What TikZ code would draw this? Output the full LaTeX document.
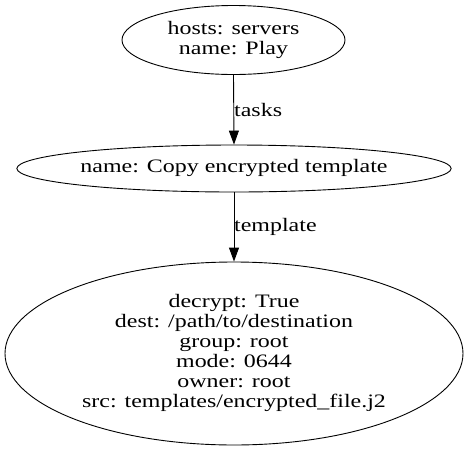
\documentclass[tikz,border=0pt]{standalone}
\usepackage{fontspec}
\setmainfont{Liberation Serif}
\usetikzlibrary{shapes.geometric,arrows.meta}
\newcommand{\widetext}[1]{\scalebox{1.26}[1]{\begin{tabular}{@{}c@{}}#1\end{tabular}}}
\begin{document}
\begin{tikzpicture}[x=1pt,y=-1pt,
  every node/.style={font=\fontsize{19}{20}\selectfont},
  oval/.style={draw,ellipse,inner sep=0pt,line width=0.9pt},
  edge/.style={draw,line width=0.9pt,-{Triangle[length=14pt,width=10pt]}},
  lbl/.style={anchor=base west,inner sep=0pt}]
\useasboundingbox (0,0) rectangle (467,451);
\node[oval,minimum width=223pt,minimum height=69pt] (play) at (233.5,40) {\raisebox{-2.5pt}{\widetext{hosts: servers\\name: Play}}};
\node[oval,minimum width=426pt,minimum height=47pt] (task) at (234,168.5) {\raisebox{-1.5pt}{\widetext{name: Copy encrypted template}}};
\node[oval,minimum width=458pt,minimum height=183pt] (tmpl) at (234,353.5) {\widetext{decrypt: True\\dest: /path/to/destination\\group: root\\mode: 0644\\owner: root\\src: templates/encrypted\_file.j2}};
\draw[edge] (play.south) -- (task.north);
\draw[edge] (task.south) -- (tmpl.north);
\node[lbl] (l1) at (234,116) {\scalebox{1.26}[1]{tasks}};
\node[lbl] (l2) at (234,231) {\scalebox{1.26}[1]{template}};
\end{tikzpicture}
\end{document}
